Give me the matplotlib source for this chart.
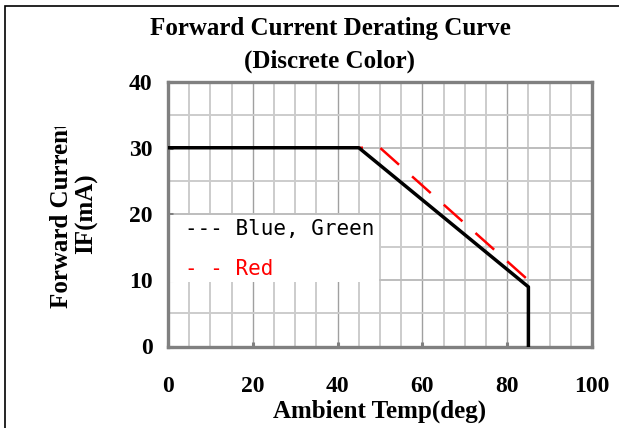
import matplotlib
matplotlib.use("Agg")
import matplotlib.pyplot as plt
from matplotlib.patches import Rectangle
from matplotlib.transforms import Bbox, TransformedBbox

# データ（周囲温度 -> 順方向電流）
temp_bg = [0, 45, 85, 85]  # Blue, Green
if_bg = [30, 30, 9, 0]
temp_red = [0, 50, 85, 85]  # Red
if_red = [30, 30, 10, 0]

x_ticks = [0, 20, 40, 60, 80, 100]
y_ticks = [0, 10, 20, 30, 40]
legend_labels = ["--- Blue, Green", "- - Red"]

W, H = 619, 428
serif = "Liberation Serif"

fig = plt.figure(figsize=(W / 100, H / 100), dpi=100)
ax = fig.add_axes([168 / W, 1 - 346.5 / H, (592 - 168) / W, (346.5 - 81.5) / H])

# グラフ本体
ax.plot(temp_red, if_red, color="red", lw=1.8, dashes=(10, 7), zorder=3)
ax.plot(temp_bg, if_bg, color="black", lw=2.5, zorder=4)

ax.set_xlim(0, 100)
ax.set_ylim(0, 40)
ax.set_xticks(x_ticks)
ax.set_yticks(y_ticks)
ax.set_xticks(range(0, 101, 5), minor=True)
ax.set_yticks(range(0, 41, 5), minor=True)

# 目盛り線
ax.set_axisbelow(True)
ax.grid(which="minor", color="#cccccc", lw=1.4)
ax.grid(which="major", axis="x", color="#a0a0a0", lw=1.0)
ax.grid(which="major", axis="y", color="#bdbdbd", lw=1.4)

for s in ax.spines.values():
    s.set_color("#808080")
    s.set_linewidth(2.4)

ax.tick_params(which="major", direction="in", length=3.6, width=2.2, color="#808080")
ax.tick_params(which="minor", length=0)
ax.tick_params(axis="x", pad=21)
ax.tick_params(axis="y", pad=11)
for lab in ax.get_xticklabels() + ax.get_yticklabels():
    lab.set_fontfamily(serif)
    lab.set_fontweight("bold")
    lab.set_fontsize(17)

# 凡例（白い箱）
ax.add_patch(Rectangle((0.5, 9.7), 49.3, 10.15, facecolor="white", edgecolor="none", zorder=2))
ax.text(4, 17.7, legend_labels[0], family="DejaVu Sans Mono", fontsize=15,
        color="black", va="center", zorder=5)
ax.text(4, 11.7, legend_labels[1], family="DejaVu Sans Mono", fontsize=15,
        color="red", va="center", zorder=5)

# タイトルと軸ラベル
fig.text(330 / W, 1 - 35 / H, "Forward Current Derating Curve", family=serif,
         weight="bold", fontsize=18, ha="center", va="baseline")
fig.text(330 / W, 1 - 68 / H, "(Discrete Color)", family=serif,
         weight="bold", fontsize=18, ha="center", va="baseline")
fig.text(380 / W, 1 - 418 / H, "Ambient Temp(deg)", family=serif,
         weight="bold", fontsize=18, ha="center", va="baseline")

# 縦軸ラベル（上端が切れている）
yl = fig.text(74 / W, 1 - 214 / H, "Forward Current\nIF(mA)", family=serif,
              weight="bold", fontsize=18, ha="center", va="center",
              rotation=90, multialignment="center", linespacing=1.1)
yl.set_clip_box(TransformedBbox(Bbox([[0, 0], [1, 1 - 127 / H]]), fig.transFigure))
yl.set_clip_on(True)

# 外枠（左と上だけ見える）
fig.add_artist(Rectangle((5 / W, -0.5), 2, 0.5 + (H - 6) / H, transform=fig.transFigure,
                         fill=False, edgecolor="black", lw=1.2))

fig.savefig("out.png", dpi=100)
